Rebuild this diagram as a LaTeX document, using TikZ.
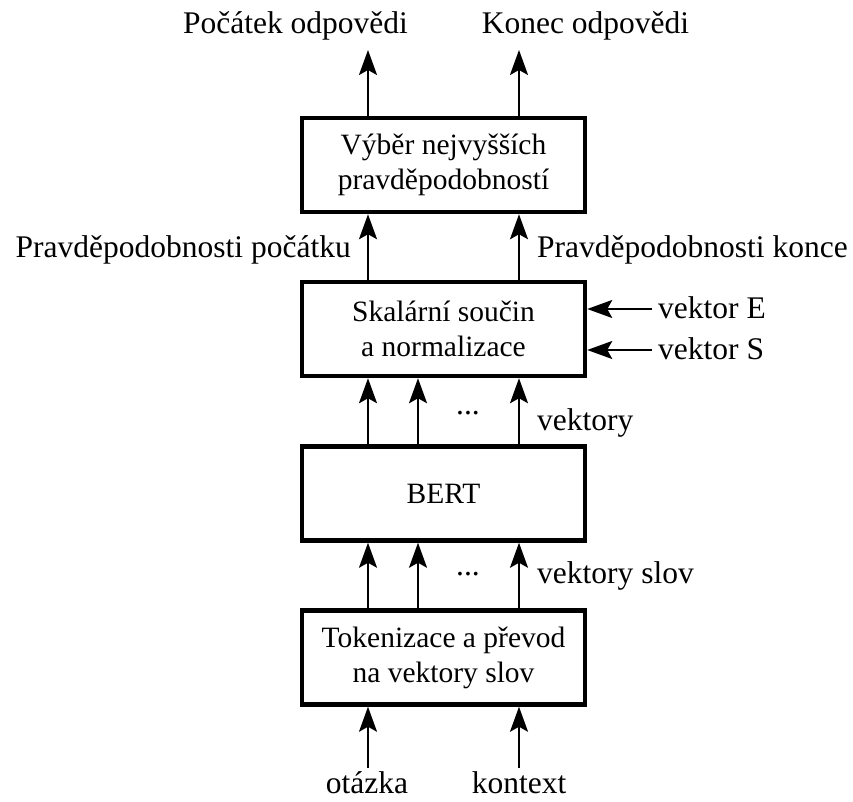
\documentclass[tikz,border=0pt]{standalone}
\usepackage{fontspec}
\setmainfont{Liberation Serif}
\usetikzlibrary{arrows.meta}
\begin{document}
\begin{tikzpicture}[x=1pt,y=-1pt,
  box/.style={draw, line width=4.5pt, minimum width=283pt, minimum height=94pt,
    inner sep=0pt, align=center, font=\fontsize{29.5}{35}\selectfont},
  lbl/.style={inner sep=0pt, font=\fontsize{31.5}{36}\selectfont},
  arr/.style={line width=2pt, -{Stealth[length=25pt,width=18pt,inset=5pt]}}]
\useasboundingbox (0,0) rectangle (853,802);
% boxes
\node[box] (b1) at (443.5,165) {Výběr nejvyšších\\pravděpodobností};
\node[box] (b2) at (443.5,329) {Skalární součin\\a normalizace};
\node[box] (b3) at (443.5,493.5) {BERT};
\node[box] (b4) at (443.5,657.5) {Tokenizace a převod\\na vektory slov};
% labels
\node[lbl, anchor=base] (pa) at (295.5,34) {Počátek odpovědi};
\node[lbl, anchor=base] (ko) at (585.5,34) {Konec odpovědi};
\node[lbl, anchor=base east] (pp) at (351,258) {Pravděpodobnosti počátku};
\node[lbl, anchor=base west] (pk) at (537,258) {Pravděpodobnosti konce};
\node[lbl, anchor=base west] (ve) at (658,318.5) {vektor E};
\node[lbl, anchor=base west] (vs) at (658,359.5) {vektor S};
\node[lbl, anchor=base west] (vk) at (537,430) {vektory};
\node[lbl, anchor=base west] (vks) at (537,583) {vektory slov};
\node[lbl, anchor=base] (d1) at (468,414) {...};
\node[lbl, anchor=base] (d2) at (468,575) {...};
\node[lbl, anchor=base] (ot) at (367,793) {otázka};
\node[lbl, anchor=base] (kt) at (519,793) {kontext};
% coordinates
\coordinate (xL) at (368,0);
\coordinate (xM) at (418,0);
\coordinate (xR) at (519,0);
\coordinate (tL) at (368,50);
\coordinate (tR) at (519,50);
\coordinate (sL) at (368,768);
\coordinate (sR) at (519,768);
\coordinate (eE) at (652,309);
\coordinate (eS) at (652,350);
% arrows
\draw[arr] (b1.north -| xL) -- (tL);
\draw[arr] (b1.north -| xR) -- (tR);
\draw[arr] (b2.north -| xL) -- (b1.south -| xL);
\draw[arr] (b2.north -| xR) -- (b1.south -| xR);
\draw[arr] (b3.north -| xL) -- (b2.south -| xL);
\draw[arr] (b3.north -| xM) -- (b2.south -| xM);
\draw[arr] (b3.north -| xR) -- (b2.south -| xR);
\draw[arr] (b4.north -| xL) -- (b3.south -| xL);
\draw[arr] (b4.north -| xM) -- (b3.south -| xM);
\draw[arr] (b4.north -| xR) -- (b3.south -| xR);
\draw[arr] (sL) -- (b4.south -| sL);
\draw[arr] (sR) -- (b4.south -| sR);
\draw[arr] (eE) -- (b2.east |- eE);
\draw[arr] (eS) -- (b2.east |- eS);
\end{tikzpicture}
\end{document}
